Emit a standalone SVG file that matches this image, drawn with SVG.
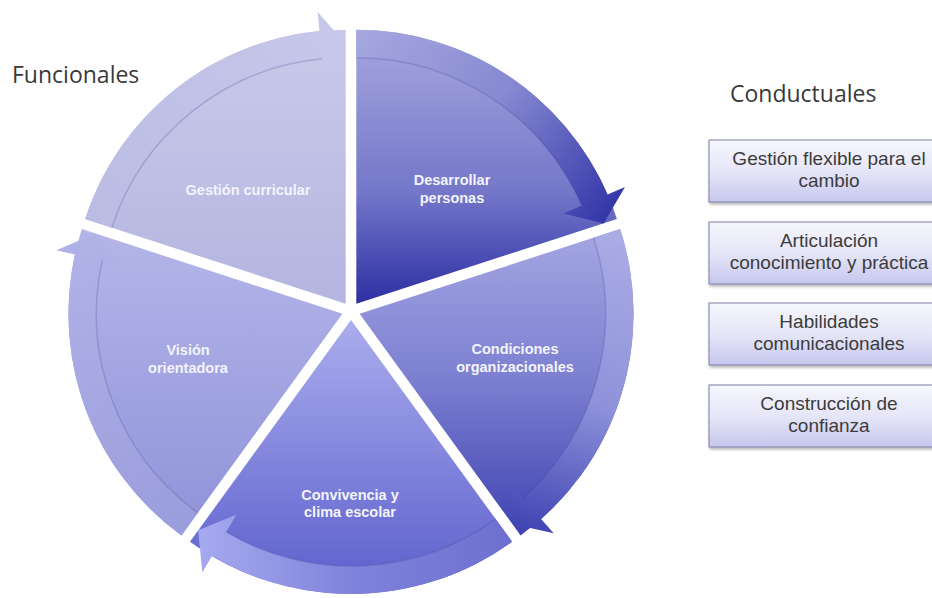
<svg xmlns="http://www.w3.org/2000/svg" width="932" height="598" viewBox="0 0 932 598">
  <style>
    .seg-label { font-family: "Liberation Sans", Arial, sans-serif; font-weight: bold; font-size: 14.5px; fill: #f3f4fb; text-anchor: middle; }
    .heading { font-family: "Open Sans", "Liberation Sans", sans-serif; font-size: 23px; fill: #3a3a3a; }
    .box { fill: url(#boxFill); stroke: #7f80a6; stroke-width: 1; filter: url(#boxShadow); }
    .box-label { font-family: "Liberation Sans", Arial, sans-serif; font-size: 19px; fill: #3c3c3c; text-anchor: middle; }
    .rim-edge { fill: none; stroke: #3c3d8c; stroke-opacity: 0.22; stroke-width: 1.5; }
  </style>
  <defs>
    <!-- one 72° segment, bisector pointing up, apex at the origin -->
    <path id="wedge" d="M 0 0 L -161.05 -221.67 A 274 274 0 0 1 161.05 -221.67 Z"/>
    <!-- curved rim arrow running clockwise along the outer edge of a segment -->
    <path id="rim" d="M -161.05 -221.67 A 274 274 0 0 1 139.07 -236.09 L 148.71 -252.46 L 152.82 -210.34 L 114.70 -194.73 L 124.85 -211.96 A 246 246 0 0 0 -144.60 -199.02 Z"/>
    <path id="rimEdge" d="M 124.85 -211.96 A 246 246 0 0 0 -144.60 -199.02"/>

    <!-- segment fills: vertical on the page, countering each segment's rotation -->
    <linearGradient id="gGes" gradientUnits="userSpaceOnUse" gradientTransform="translate(0 9) rotate(36)" x1="0" y1="-280" x2="0" y2="-5">
      <stop offset="0" stop-color="#c9cae9"/>
      <stop offset="1" stop-color="#b3b5e0"/>
    </linearGradient>
    <linearGradient id="gDes" gradientUnits="userSpaceOnUse" gradientTransform="translate(0 9) rotate(-36)" x1="0" y1="-282" x2="0" y2="-8">
      <stop offset="0" stop-color="#a6a8df"/>
      <stop offset="0.6" stop-color="#7476c9"/>
      <stop offset="1" stop-color="#2d30a2"/>
    </linearGradient>
    <linearGradient id="gCon" gradientUnits="userSpaceOnUse" gradientTransform="translate(0 9) rotate(-108)" x1="0" y1="-85" x2="0" y2="225">
      <stop offset="0" stop-color="#a5a7e3"/>
      <stop offset="0.5" stop-color="#7c7fd0"/>
      <stop offset="1" stop-color="#3f42b1"/>
    </linearGradient>
    <linearGradient id="gConv" gradientUnits="userSpaceOnUse" gradientTransform="translate(0 9) rotate(-180)" x1="0" y1="9" x2="0" y2="283">
      <stop offset="0" stop-color="#abadee"/>
      <stop offset="1" stop-color="#5b5ecb"/>
    </linearGradient>
    <linearGradient id="gVis" gradientUnits="userSpaceOnUse" gradientTransform="translate(0 9) rotate(-252)" x1="0" y1="-82" x2="0" y2="225">
      <stop offset="0" stop-color="#b4b6e9"/>
      <stop offset="1" stop-color="#8f92d9"/>
    </linearGradient>

    <!-- rim arrow fills, running from tail to head -->
    <linearGradient id="rGes" x1="0" y1="0" x2="1" y2="0">
      <stop offset="0" stop-color="#babce4"/>
      <stop offset="1" stop-color="#c6c7e9"/>
    </linearGradient>
    <linearGradient id="rDes" x1="0" y1="0" x2="1" y2="0">
      <stop offset="0" stop-color="#a6a8df"/>
      <stop offset="0.5" stop-color="#8789d2"/>
      <stop offset="1" stop-color="#3336a8"/>
    </linearGradient>
    <linearGradient id="rCon" x1="0" y1="0" x2="1" y2="0">
      <stop offset="0" stop-color="#abade6"/>
      <stop offset="0.55" stop-color="#8f92da"/>
      <stop offset="1" stop-color="#4145b3"/>
    </linearGradient>
    <linearGradient id="rConv" x1="0" y1="0" x2="1" y2="0">
      <stop offset="0" stop-color="#6d70d0"/>
      <stop offset="0.5" stop-color="#7f82da"/>
      <stop offset="1" stop-color="#a7aaef"/>
    </linearGradient>
    <linearGradient id="rVis" x1="0" y1="0" x2="1" y2="0">
      <stop offset="0" stop-color="#9a9ddc"/>
      <stop offset="1" stop-color="#b0b2e7"/>
    </linearGradient>

    <linearGradient id="boxFill" x1="0" y1="0" x2="0" y2="1">
      <stop offset="0" stop-color="#f6f6fd"/>
      <stop offset="0.5" stop-color="#e6e6f8"/>
      <stop offset="1" stop-color="#c6c7ee"/>
    </linearGradient>
    <filter id="boxShadow" x="-10%" y="-20%" width="130%" height="150%">
      <feDropShadow dx="1" dy="2" stdDeviation="1.5" flood-color="#000" flood-opacity="0.3"/>
    </filter>
  </defs>

  <rect width="932" height="598" fill="#ffffff"/>

  <text class="heading" x="12" y="83">Funcionales</text>
  <text class="heading" x="730" y="102">Conductuales</text>

  <!-- cycle segments -->
  <g id="gestion-curricular">
    <use href="#wedge" fill="url(#gGes)" transform="translate(351 311) rotate(-36) translate(0 -9)"/>
    <text class="seg-label" x="248" y="195">Gestión curricular</text>
  </g>
  <g id="desarrollar-personas">
    <use href="#wedge" fill="url(#gDes)" transform="translate(351 311) rotate(36) translate(0 -9)"/>
    <text class="seg-label" x="452" y="185">Desarrollar</text>
    <text class="seg-label" x="452" y="203">personas</text>
  </g>
  <g id="condiciones-organizacionales">
    <use href="#wedge" fill="url(#gCon)" transform="translate(351 311) rotate(108) translate(0 -9)"/>
    <text class="seg-label" x="515" y="354">Condiciones</text>
    <text class="seg-label" x="515" y="372">organizacionales</text>
  </g>
  <g id="convivencia-clima">
    <use href="#wedge" fill="url(#gConv)" transform="translate(351 311) rotate(180) translate(0 -9)"/>
    <text class="seg-label" x="350" y="500">Convivencia y</text>
    <text class="seg-label" x="350" y="517">clima escolar</text>
  </g>
  <g id="vision-orientadora">
    <use href="#wedge" fill="url(#gVis)" transform="translate(351 311) rotate(252) translate(0 -9)"/>
    <text class="seg-label" x="188" y="355">Visión</text>
    <text class="seg-label" x="188" y="373">orientadora</text>
  </g>

  <!-- clockwise rim arrows linking the segments -->
  <g id="connectors">
    <g transform="translate(351 311) rotate(-36) translate(0 -9)">
      <use href="#rim" fill="url(#rGes)"/>
      <use href="#rimEdge" class="rim-edge"/>
    </g>
    <g transform="translate(351 311) rotate(36) translate(0 -9)">
      <use href="#rim" fill="url(#rDes)"/>
      <use href="#rimEdge" class="rim-edge"/>
    </g>
    <g transform="translate(351 311) rotate(108) translate(0 -9)">
      <use href="#rim" fill="url(#rCon)"/>
      <use href="#rimEdge" class="rim-edge"/>
    </g>
    <g transform="translate(351 311) rotate(180) translate(0 -9)">
      <use href="#rim" fill="url(#rConv)"/>
      <use href="#rimEdge" class="rim-edge"/>
    </g>
    <g transform="translate(351 311) rotate(252) translate(0 -9)">
      <use href="#rim" fill="url(#rVis)"/>
      <use href="#rimEdge" class="rim-edge"/>
    </g>
  </g>

  <!-- behavioural competences -->
  <g id="gestion-flexible">
    <rect class="box" x="709" y="140" width="240" height="62"/>
    <text class="box-label" x="829" y="165">Gestión flexible para el</text>
    <text class="box-label" x="829" y="187">cambio</text>
  </g>
  <g id="articulacion">
    <rect class="box" x="709" y="222" width="240" height="62"/>
    <text class="box-label" x="829" y="247">Articulación</text>
    <text class="box-label" x="829" y="269">conocimiento y práctica</text>
  </g>
  <g id="habilidades">
    <rect class="box" x="709" y="303" width="240" height="62"/>
    <text class="box-label" x="829" y="328">Habilidades</text>
    <text class="box-label" x="829" y="350">comunicacionales</text>
  </g>
  <g id="construccion-confianza">
    <rect class="box" x="709" y="385" width="240" height="62"/>
    <text class="box-label" x="829" y="410">Construcción de</text>
    <text class="box-label" x="829" y="432">confianza</text>
  </g>
</svg>
